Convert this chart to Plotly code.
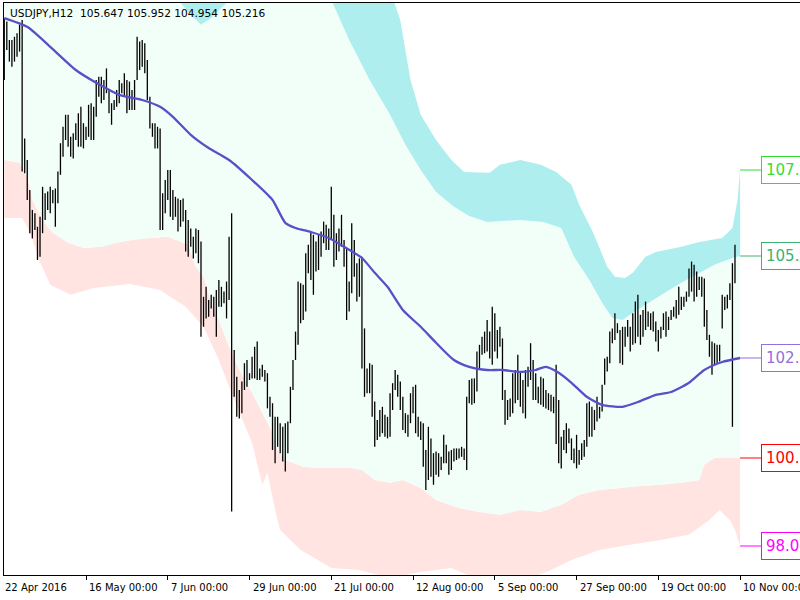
import plotly.graph_objects as go

symbol = "USDJPY,H12"
last_ohlc = ["105.647", "105.952", "104.954", "105.216"]

bar_high = [
    111.24, 111.16, 110.70, 110.70, 110.78, 110.87, 111.08, 111.20, 108.24, 107.70,
    106.95, 106.45, 106.37, 106.03, 106.28, 107.03, 106.87, 106.91, 107.03, 106.95,
    106.99, 107.41, 108.12, 108.53, 108.83, 108.83, 108.28, 108.37, 108.62, 108.87,
    109.03, 108.62, 108.53, 109.08, 109.12, 109.03, 109.70, 109.78, 109.78, 109.70,
    109.99, 109.45, 109.12, 109.20, 109.45, 109.70, 109.62, 109.87, 109.70, 109.66,
    109.45, 109.70, 110.78, 110.66, 110.70, 110.62, 110.20, 109.28, 108.62, 108.62,
    108.53, 108.49, 106.87, 107.20, 107.45, 107.45, 106.95, 106.78, 106.74, 106.70,
    106.74, 106.45, 106.20, 105.99, 105.78, 105.99, 105.95, 105.66, 104.28, 104.53,
    104.20, 104.33, 104.28, 104.45, 104.70, 104.53, 104.41, 104.66, 105.78, 106.37,
    102.95, 102.28, 101.95, 102.16, 102.62, 102.70, 102.37, 102.78, 103.03, 103.16,
    102.49, 102.58, 102.45, 102.37, 101.78, 101.62, 101.28, 101.28, 101.12, 101.03,
    101.12, 101.16, 102.03, 102.70, 103.41, 104.66, 104.62, 104.58, 105.37, 105.58,
    105.91, 105.83, 105.66, 105.83, 105.91, 106.16, 106.08, 105.99, 107.03, 106.33,
    105.87, 105.99, 106.33, 105.70, 105.49, 104.66, 106.12, 105.70, 105.12, 105.24,
    105.28, 103.49, 102.49, 102.62, 102.58, 101.66, 101.20, 101.45, 101.53, 101.33,
    101.28, 101.87, 102.12, 102.45, 102.33, 102.16, 101.78, 101.37, 101.33, 101.87,
    102.03, 102.08, 101.28, 101.16, 101.12, 100.45, 101.03, 100.74, 100.37, 100.41,
    100.37, 100.28, 100.83, 100.58, 100.41, 100.45, 100.49, 100.49, 100.49, 100.53,
    100.49, 101.78, 102.20, 102.24, 102.24, 102.91, 103.08, 103.28, 103.41, 103.70,
    103.41, 104.03, 103.87, 103.45, 103.53, 103.24, 101.95, 101.70, 101.74, 102.37,
    102.45, 102.83, 102.41, 102.20, 102.45, 102.53, 103.12, 102.70, 102.37, 102.03,
    102.28, 102.24, 101.95, 101.87, 101.83, 101.78, 102.58, 101.70, 100.78, 100.95,
    101.12, 100.99, 100.74, 100.49, 100.83, 100.45, 100.62, 100.70, 101.62, 101.66,
    101.53, 101.45, 101.78, 101.53, 102.08, 102.74, 102.78, 103.41, 103.49, 103.87,
    103.62, 103.45, 103.53, 103.53, 103.70, 103.53, 103.87, 104.16, 104.33, 103.83,
    103.95, 104.16, 103.91, 103.87, 103.91, 103.66, 103.45, 103.53, 103.87, 103.91,
    103.78, 103.95, 104.03, 104.20, 104.53, 104.28, 104.28, 104.41, 104.99, 105.16,
    105.08, 104.91, 104.78, 104.78, 104.74, 103.95, 103.33, 103.16, 103.12, 103.08,
    103.08, 104.33, 104.28, 104.33, 104.62, 105.12, 105.58,
]

bar_low = [
    109.70, 110.45, 110.16, 110.03, 110.16, 110.28, 110.41, 107.41, 107.37, 106.70,
    105.87, 105.74, 105.95, 105.20, 105.28, 105.87, 106.20, 106.45, 106.37, 106.62,
    106.03, 106.62, 107.33, 107.78, 108.20, 108.03, 107.78, 107.74, 108.20, 108.03,
    108.03, 107.99, 108.20, 108.28, 108.20, 108.20, 108.78, 109.28, 109.12, 109.20,
    109.37, 108.87, 108.58, 108.95, 109.03, 109.12, 109.37, 109.28, 108.87, 108.95,
    108.95, 108.95, 109.70, 109.95, 110.03, 109.87, 109.20, 108.49, 108.28, 107.99,
    107.99, 105.95, 105.95, 106.37, 106.70, 106.28, 106.20, 106.28, 105.91, 106.03,
    106.16, 105.41, 105.28, 105.53, 105.24, 105.37, 105.12, 103.28, 103.53, 103.74,
    103.78, 103.99, 103.78, 103.28, 104.03, 104.03, 104.12, 103.74, 104.20, 98.91,
    101.78, 101.28, 101.24, 101.37, 101.95, 102.03, 102.20, 102.24, 102.24, 102.20,
    102.20, 102.28, 102.16, 101.49, 101.28, 100.45, 100.12, 100.53, 100.37, 100.16,
    99.91, 100.37, 101.12, 101.95, 102.70, 103.08, 103.62, 103.70, 103.91, 104.87,
    104.70, 104.33, 104.91, 104.95, 105.28, 105.62, 105.45, 105.45, 105.70, 105.03,
    105.20, 105.41, 105.53, 105.03, 103.70, 103.91, 104.37, 104.78, 104.16, 104.28,
    102.49, 101.78, 101.87, 101.87, 101.28, 100.53, 100.70, 100.78, 100.87, 100.78,
    100.74, 100.78, 101.45, 101.95, 101.78, 101.45, 100.95, 100.87, 100.78, 101.12,
    101.37, 100.87, 100.78, 100.70, 100.03, 99.45, 99.70, 99.78, 99.58, 99.83,
    99.78, 99.95, 100.12, 100.12, 99.83, 99.95, 100.16, 100.20, 100.24, 100.28,
    100.20, 99.95, 101.62, 101.58, 101.62, 101.91, 102.45, 102.83, 102.87, 102.91,
    102.74, 102.58, 102.91, 102.74, 103.03, 101.70, 101.08, 101.20, 101.28, 101.37,
    101.62, 101.70, 101.53, 101.37, 101.24, 102.03, 102.20, 101.70, 101.70, 101.62,
    101.58, 101.53, 101.49, 101.45, 101.41, 101.37, 100.60, 100.12, 99.99, 100.45,
    100.37, 100.62, 100.20, 100.12, 99.99, 100.08, 100.20, 100.28, 100.53, 100.78,
    100.78, 100.95, 101.16, 101.24, 101.41, 102.08, 102.41, 102.62, 103.12, 103.20,
    103.37, 102.62, 102.58, 103.03, 103.28, 102.91, 103.08, 103.12, 103.28, 103.08,
    103.28, 103.45, 103.53, 103.45, 103.41, 103.16, 102.91, 103.24, 103.45, 103.28,
    103.45, 103.70, 103.78, 103.74, 103.83, 103.95, 104.03, 104.16, 104.28, 104.41,
    104.16, 104.28, 104.45, 104.28, 103.53, 103.20, 102.78, 102.33, 102.58, 102.62,
    102.66, 103.49, 103.95, 103.99, 104.20, 101.03, 104.62,
]

tick_bars = [0, 32, 64, 96, 128, 160, 192, 224, 256, 288]
tick_labels = ["22 Apr 2016", "16 May 00:00", "7 Jun 00:00", "29 Jun 00:00",
               "21 Jul 00:00", "12 Aug 00:00", "5 Sep 00:00", "27 Sep 00:00",
               "19 Oct 00:00", "10 Nov 00:00"]

ma_x = [0, 9, 18, 28, 36, 45, 54, 61, 66, 73, 80, 88, 97, 105, 110, 114, 120, 127,
        133, 140, 145, 150, 156, 163, 169, 176, 182, 189, 195, 202, 208, 212, 217,
        222, 228, 234, 242, 248, 255, 261, 268, 274, 281, 288]
ma_y = [111.25, 111.03, 110.53, 109.95, 109.63, 109.33, 109.20, 109.03, 108.78,
        108.33, 108.00, 107.70, 107.20, 106.70, 106.13, 106.00, 105.90, 105.75,
        105.53, 105.25, 104.88, 104.53, 103.95, 103.53, 103.13, 102.70, 102.53,
        102.45, 102.45, 102.40, 102.45, 102.53, 102.38, 102.13, 101.78, 101.58,
        101.53, 101.65, 101.83, 101.90, 102.13, 102.45, 102.65, 102.75]

u2_x = [0, 77, 128, 151, 155, 159, 163, 169, 175, 180, 190, 194, 202, 210, 216,
        222, 225, 230, 233, 236, 239, 243, 246, 251, 255, 265, 272, 281, 285, 287, 288]
u2_y = [114.70, 113.20, 112.70, 111.95, 111.20, 109.70, 108.83, 108.20, 107.70,
        107.40, 107.38, 107.58, 107.70, 107.58, 107.40, 107.08, 106.58, 105.95,
        105.50, 105.03, 104.78, 104.75, 104.88, 105.28, 105.40, 105.53, 105.65,
        105.75, 106.00, 106.70, 107.45]

u1_x = [0, 38, 57, 69, 73, 77, 81, 87, 100, 116, 128, 135, 143, 151, 157, 163, 169,
        176, 182, 189, 202, 211, 218, 223, 229, 234, 238, 242, 246, 252, 259, 265,
        272, 278, 285, 288]
u1_y = [112.70, 112.45, 111.83, 111.63, 111.33, 111.08, 111.25, 111.63, 112.20,
        112.45, 111.70, 110.70, 109.70, 108.83, 108.08, 107.45, 106.90, 106.53,
        106.30, 106.15, 106.20, 106.15, 106.00, 105.28, 104.70, 104.13, 103.75,
        103.70, 103.88, 104.13, 104.40, 104.63, 104.88, 105.08, 105.25, 105.30]

l1_x = [0, 6, 9, 11, 15, 19, 25, 31, 38, 44, 50, 57, 64, 72, 75, 78, 81, 84, 88,
        92, 97, 102, 105, 107, 110, 117, 123, 130, 136, 140, 145, 151, 156, 163,
        169, 178, 186, 194, 202, 210, 218, 225, 233, 241, 249, 257, 265, 272, 274,
        278, 288]
l1_y = [107.70, 107.63, 107.28, 106.70, 106.20, 105.88, 105.63, 105.50, 105.53,
        105.63, 105.70, 105.75, 105.78, 105.58, 105.03, 104.78, 104.13, 103.70,
        103.03, 102.45, 101.88, 101.28, 100.88, 100.45, 100.20, 100.03, 100.00,
        100.00, 100.00, 99.95, 99.70, 99.63, 99.70, 99.50, 99.20, 99.00, 98.90,
        98.83, 98.95, 98.90, 99.08, 99.33, 99.45, 99.50, 99.55, 99.58, 99.63,
        99.70, 100.08, 100.25, 100.25]

l2_x = [0, 7, 10, 14, 18, 26, 35, 49, 61, 71, 78, 84, 90, 97, 101, 103, 106, 108,
        116, 128, 139, 151, 163, 175, 184, 194, 206, 214, 222, 233, 245, 257, 268,
        276, 280, 284, 286, 288]
l2_y = [106.25, 106.25, 105.90, 105.15, 104.58, 104.33, 104.50, 104.60, 104.45,
        104.03, 103.53, 102.70, 101.70, 100.63, 99.58, 99.88, 98.95, 98.45, 97.95,
        97.50, 97.45, 97.25, 97.40, 97.50, 97.25, 97.20, 97.25, 97.45, 97.70, 97.95,
        98.08, 98.20, 98.33, 98.70, 98.95, 98.70, 98.45, 98.05]

PINK = "#FFE4E1"
MINT = "#F2FFF9"
CYAN = "#AFEEEE"

fig = go.Figure()
fig.add_trace(go.Scatter(x=l2_x, y=l2_y, mode="lines", line=dict(width=0),
                         hoverinfo="skip"))
fig.add_trace(go.Scatter(x=l1_x, y=l1_y, mode="lines", line=dict(width=0),
                         fill="tonexty", fillcolor=PINK, hoverinfo="skip"))
fig.add_trace(go.Scatter(x=u1_x, y=u1_y, mode="lines", line=dict(width=0),
                         fill="tonexty", fillcolor=MINT, hoverinfo="skip"))
fig.add_trace(go.Scatter(x=u2_x, y=u2_y, mode="lines", line=dict(width=0),
                         fill="tonexty", fillcolor=CYAN, hoverinfo="skip"))

bx, by = [], []
for i, (h, l) in enumerate(zip(bar_high, bar_low)):
    bx += [i, i, None]
    by += [l, h, None]
fig.add_trace(go.Scatter(x=bx, y=by, mode="lines",
                         line=dict(color="#000000", width=1.3), hoverinfo="skip"))

fig.add_trace(go.Scatter(x=ma_x, y=ma_y, mode="lines",
                         line=dict(color="#5A4FC8", width=2.3, shape="spline",
                                   smoothing=0.6), hoverinfo="skip"))

annotations = []
# header
annotations.append(dict(xref="paper", yref="paper", x=0, y=1, xanchor="left",
                        yanchor="top", xshift=4, yshift=-2, showarrow=False,
                        text=symbol + "\u00a0\u00a0" + " ".join(last_ohlc),
                        font=dict(family="DejaVu Sans", size=10.6, color="#000000")))
# date labels
for tb, tl in zip(tick_bars, tick_labels):
    annotations.append(dict(x=tb, y=0, xref="x", yref="paper", xanchor="left",
                            yanchor="top", yshift=-5, xshift=(-1 if tb == 0 else 1),
                            showarrow=False, text=tl,
                            font=dict(family="DejaVu Sans", size=10, color="#000000")))
# right side level labels (only the part inside the window is visible)
levels = [
    (u2_x[-1], u2_y[-1], "#33DD33"),
    (u1_x[-1], u1_y[-1], "#3CB371"),
    (ma_x[-1], ma_y[-1], "#9370DB"),
    (l1_x[-1], l1_y[-1], "#FF0000"),
    (l2_x[-1], l2_y[-1], "#FF00FF"),
]
for lx, ly, col in levels:
    annotations.append(dict(x=lx, y=ly, xref="x", yref="y", showarrow=True,
                            arrowhead=0, arrowwidth=1, arrowcolor=col, ax=21, ay=0,
                            xanchor="left", align="left", width=62,
                            text=f"{ly:.3f}"[:4],
                            font=dict(family="DejaVu Sans", size=15, color=col),
                            bordercolor=col, borderwidth=1, borderpad=4,
                            bgcolor="#FFFFFF"))

x0 = -0.098
x1 = x0 + 796 / 2.555
fig.update_layout(
    width=800, height=600,
    margin=dict(l=4, r=0, t=3, b=25),
    paper_bgcolor="#FFFFFF", plot_bgcolor="#FFFFFF",
    showlegend=False,
    annotations=annotations,
    xaxis=dict(range=[x0, x1], showgrid=False, zeroline=False, showline=True,
               linecolor="#000000", linewidth=1, mirror=True,
               tickvals=tick_bars[1:], ticktext=[""] * (len(tick_bars) - 1),
               ticks="outside", ticklen=4, tickcolor="#000000", tickwidth=1),
    yaxis=dict(range=[97.325, 111.625], showgrid=False, zeroline=False,
               showline=True, linecolor="#000000", linewidth=1, mirror=False,
               showticklabels=False, ticks=""),
)
fig.write_html("out.html")
